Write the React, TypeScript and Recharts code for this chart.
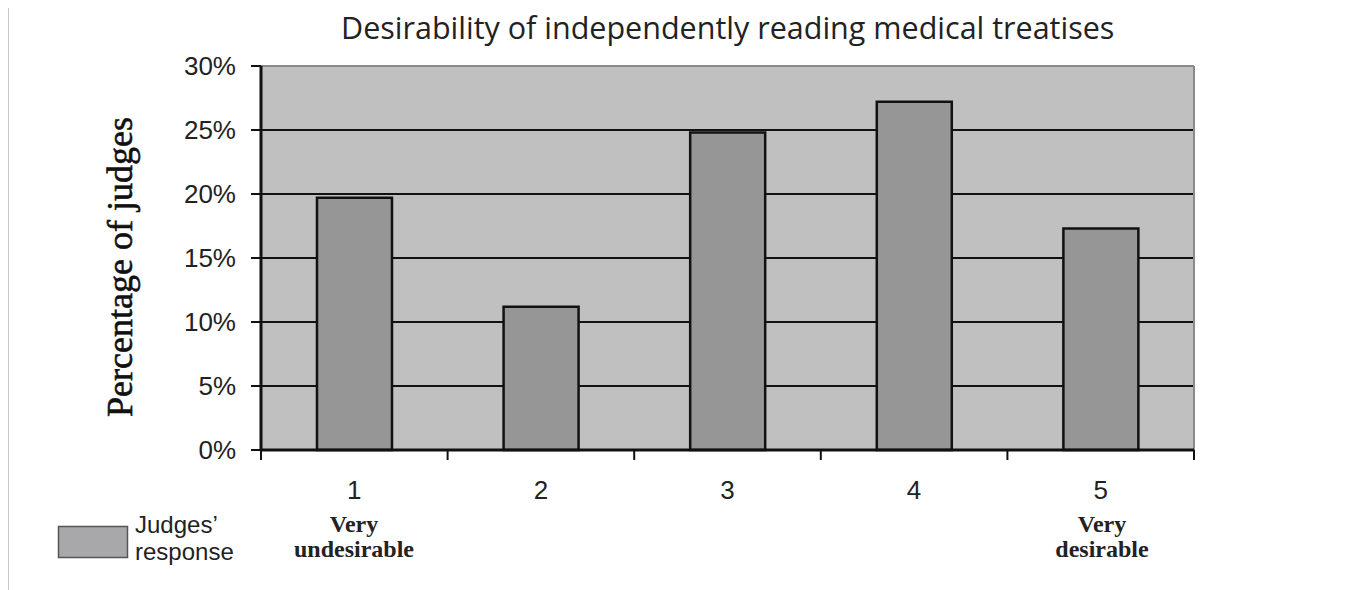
import { Bar, BarChart, CartesianGrid, ReferenceLine, XAxis, YAxis } from "recharts";

// Judges' ratings, 1 = very undesirable ... 5 = very desirable
const categories = ["1", "2", "3", "4", "5"];
const shares = [19.7, 11.2, 24.8, 27.2, 17.3]; // % of judges
const yTicks = [0, 5, 10, 15, 20, 25, 30];
const gridValues = [5, 10, 15, 20, 25];

const TITLE = "Desirability of independently reading medical treatises";
const Y_LABEL = "Percentage of judges";

const INK = "#111";
const SANS = "'Liberation Sans', Arial, sans-serif";
const SERIF = "'Liberation Serif', 'Times New Roman', serif";
const X_TICK_GAP = 31; // axis line -> top of category label
const EDGE_TICK = 10; // boundary tick length

const data = categories.map((rating, i) => ({ rating, share: shares[i] }));

// Category label plus the boundary tick marks that sit between categories.
function CategoryTick(props: any) {
  const { x, y, payload, index, visibleTicksCount } = props;
  const half = payload.offset ?? 0;
  const axisY = y - X_TICK_GAP;
  const last = index === visibleTicksCount - 1;
  return (
    <g>
      <line x1={x - half} x2={x - half} y1={axisY} y2={axisY + EDGE_TICK} stroke={INK} strokeWidth={2} />
      {last ? (
        <line x1={x + half} x2={x + half} y1={axisY} y2={axisY + EDGE_TICK} stroke={INK} strokeWidth={2} />
      ) : null}
      <text x={x} y={y} dy="0.71em" textAnchor="middle" fontSize={26} fill="#222" fontFamily={SANS}>
        {payload.value}
      </text>
    </g>
  );
}

export default function App() {
  return (
    <div
      style={{
        position: "relative",
        width: 1354,
        height: 590,
        margin: "-8px 0 0 -8px",
        background: "#fff",
      }}
    >
      <BarChart
        width={1354}
        height={590}
        data={data}
        margin={{ top: 66, right: 160, bottom: 100, left: 181 }}
        barCategoryGap="30%"
      >
        <CartesianGrid
          vertical={false}
          fill="#c0c0c0"
          fillOpacity={1}
          stroke={INK}
          strokeWidth={2}
          horizontalValues={gridValues}
        />
        {/* plot frame on the right */}
        <CartesianGrid
          horizontal={false}
          stroke="#8a8a8a"
          strokeWidth={2}
          verticalCoordinatesGenerator={({ offset }: any) => [offset.left + offset.width]}
        />
        <XAxis
          dataKey="rating"
          height={40}
          interval={0}
          axisLine={{ stroke: INK, strokeWidth: 3 }}
          tickLine={false}
          tickSize={0}
          tickMargin={X_TICK_GAP}
          tick={<CategoryTick />}
        />
        <YAxis
          domain={[0, 30]}
          ticks={yTicks}
          interval={0}
          width={80}
          axisLine={{ stroke: INK, strokeWidth: 3 }}
          tickLine={{ stroke: INK, strokeWidth: 2 }}
          tickSize={10}
          tickMargin={15}
          tickFormatter={(v) => `${v}%`}
          tick={{ fontSize: 26, fill: "#222", fontFamily: SANS }}
        />
        <ReferenceLine y={30} stroke="#8a8a8a" strokeWidth={2} />
        <Bar
          dataKey="share"
          fill="#969696"
          stroke={INK}
          strokeWidth={2.5}
          isAnimationActive={false}
        />
      </BarChart>

      {/* titles, end labels, legend */}
      <svg
        width={1354}
        height={590}
        style={{ position: "absolute", left: 0, top: 0, pointerEvents: "none" }}
      >
        <line x1={7.5} y1={0} x2={7.5} y2={590} stroke="#222" strokeWidth={1.5} />
        <text x={341} y={39} fontSize={30.5} fontFamily="'Open Sans', sans-serif" fill="#222">
          {TITLE}
        </text>
        <text
          transform="translate(132,267) rotate(-90)"
          textAnchor="middle"
          fontSize={36}
          fontFamily={SERIF}
          fill="#111"
          stroke="#111"
          strokeWidth={0.6}
        >
          {Y_LABEL}
        </text>
        <g fontFamily={SERIF} fontWeight="bold" fontSize={24} fill="#222" textAnchor="middle">
          <text x={354} y={532}>Very</text>
          <text x={354} y={557}>undesirable</text>
          <text x={1102} y={532}>Very</text>
          <text x={1102} y={557}>desirable</text>
        </g>
        <rect x={58.5} y={526.5} width={69} height={31} fill="#a8a8aa" stroke="#555" strokeWidth={1.5} />
        <g fontFamily={SANS} fontSize={24} fill="#222">
          <text x={135} y={533}>Judges’</text>
          <text x={135} y={560}>response</text>
        </g>
      </svg>
    </div>
  );
}
